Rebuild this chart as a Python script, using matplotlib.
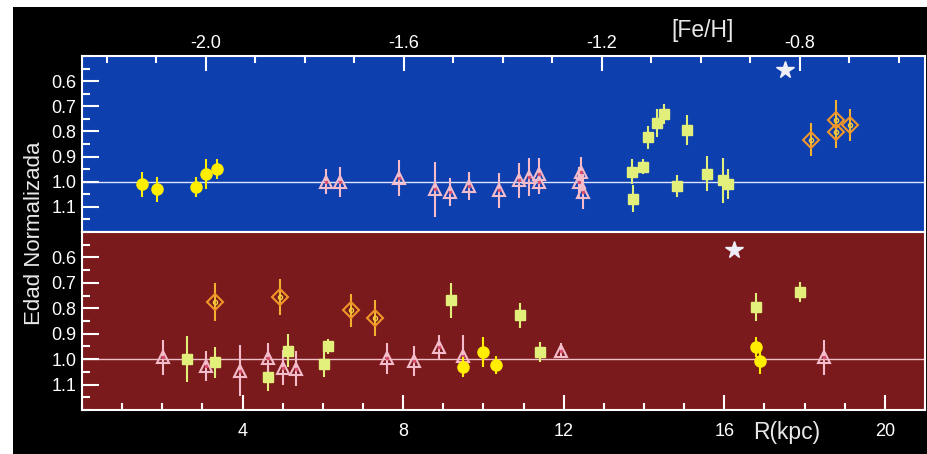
import matplotlib.pyplot as plt
from matplotlib.patches import Rectangle
from matplotlib.ticker import MultipleLocator, FormatStrFormatter

plt.rcParams['font.family'] = ['Liberation Sans', 'DejaVu Sans']

# ---- top panel: age vs [Fe/H] ----
top_circ_feh = [-2.129, -2.098, -2.019, -1.999, -1.977]
top_circ_age = [1.01, 1.03, 1.02, 0.97, 0.95]
top_circ_err = [0.05, 0.05, 0.04, 0.06, 0.04]

top_tri_feh = [-1.758, -1.729, -1.609, -1.537, -1.507, -1.468, -1.407, -1.368,
               -1.347, -1.327, -1.327, -1.246, -1.241, -1.238]
top_tri_age = [1.00, 1.00, 0.985, 1.03, 1.04, 1.017, 1.034, 0.995,
               0.98, 0.97, 1.00, 1.00, 0.96, 1.04]
top_tri_err = [0.05, 0.06, 0.07, 0.11, 0.055, 0.055, 0.07, 0.07,
               0.075, 0.065, 0.05, 0.06, 0.06, 0.07]

top_sq_feh = [-1.138, -1.116, -1.137, -1.107, -1.088, -1.075, -1.027, -1.048,
              -0.987, -0.956, -0.945]
top_sq_age = [0.96, 0.94, 1.067, 0.823, 0.767, 0.73, 0.795, 1.017,
              0.968, 0.995, 1.008]
top_sq_err = [0.05, 0.03, 0.055, 0.045, 0.055, 0.04, 0.06, 0.045,
              0.07, 0.09, 0.06]

top_dia_feh = [-0.778, -0.727, -0.727, -0.699]
top_dia_age = [0.833, 0.754, 0.804, 0.775]
top_dia_err = [0.065, 0.08, 0.06, 0.065]

top_star = (-0.830, 0.556)

# ---- bottom panel: age vs R (kpc) ----
bot_circ_r = [9.49, 9.98, 10.32, 16.80, 16.88]
bot_circ_age = [1.03, 0.971, 1.024, 0.951, 1.009]
bot_circ_err = [0.04, 0.06, 0.035, 0.04, 0.05]

bot_tri_r = [2.02, 3.08, 3.93, 4.63, 5.01, 5.32, 7.60, 8.28, 8.90, 9.50, 11.93, 18.48]
bot_tri_age = [0.993, 1.027, 1.046, 0.997, 1.033, 1.037, 0.997, 1.007,
               0.954, 0.987, 0.967, 0.993]
bot_tri_err = [0.07, 0.06, 0.10, 0.06, 0.07, 0.07, 0.06, 0.06,
               0.05, 0.08, 0.03, 0.07]

bot_sq_r = [2.62, 3.31, 4.63, 5.13, 6.02, 6.13, 9.20, 10.90, 11.41, 16.78, 17.88]
bot_sq_age = [1.00, 1.013, 1.069, 0.967, 1.02, 0.95, 0.769, 0.828, 0.971, 0.795, 0.735]
bot_sq_err = [0.09, 0.06, 0.055, 0.065, 0.05, 0.03, 0.07, 0.05, 0.04, 0.055, 0.04]

bot_dia_r = [3.31, 4.93, 6.71, 7.31]
bot_dia_age = [0.775, 0.755, 0.808, 0.838]
bot_dia_err = [0.075, 0.07, 0.065, 0.07]

bot_star = (16.23, 0.57)

W, H = 928, 454
fig = plt.figure(figsize=(W / 100, H / 100), dpi=100)
fig.patch.set_facecolor('white')
fig.patches.append(Rectangle((13 / W, 0), 1, 1 - 7 / H, transform=fig.transFigure,
                             facecolor='black', edgecolor='none', zorder=-10))

left, right = 82 / W, 925 / W
ax_top = fig.add_axes([left, 1 - 232 / H, right - left, 176 / H])
ax_bot = fig.add_axes([left, 1 - 410 / H, right - left, 178 / H])


def draw(ax, circ, tri, sq, dia, star, line_col):
    ax.axhline(1.0, color=line_col, lw=1, zorder=1)
    # squares
    ax.errorbar(sq[0], sq[1], yerr=sq[2], fmt='s', ms=6.5, mfc='#e2ef7a', mec='#e2ef7a',
                ecolor='#e2ef7a', elinewidth=1.5, capsize=0, zorder=3)
    # diamonds
    ax.errorbar(dia[0], dia[1], yerr=dia[2], fmt='D', ms=8, mfc='none', mec='#f0962a',
                mew=1.5, ecolor='#f2b030', elinewidth=1.5, capsize=0, zorder=3)
    ax.plot(dia[0], dia[1], 'o', ms=3, mfc='none', mec='#f2d040', mew=1, zorder=4)
    # triangles
    ax.errorbar(tri[0], tri[1], yerr=tri[2], fmt='^', ms=8, mfc='none', mec='#f4bccb',
                mew=1.5, ecolor='#f4bccb', elinewidth=1.5, capsize=0, zorder=3)
    ax.plot(tri[0], tri[1], '.', ms=3, color='#d84a6a', zorder=4)
    # circles
    ax.errorbar(circ[0], circ[1], yerr=circ[2], fmt='o', ms=8, mfc='#ffee00', mec='#ffee00',
                ecolor='#ffee00', elinewidth=1.5, capsize=0, zorder=5)
    ax.plot(*star, '*', ms=13, color='#eeeef8', mec='#eeeef8', zorder=5)

    ax.set_ylim(1.2, 0.5)
    ax.yaxis.set_major_locator(MultipleLocator(0.1))
    ax.yaxis.set_minor_locator(MultipleLocator(0.05))
    ax.yaxis.set_major_formatter(FormatStrFormatter('%.1f'))
    ax.set_yticks([0.6, 0.7, 0.8, 0.9, 1.0, 1.1])
    for s in ax.spines.values():
        s.set_color('white')
        s.set_linewidth(1.5)
    ax.tick_params(axis='y', which='both', direction='in', colors='white',
                   labelsize=13, pad=4, left=True, right=False)
    ax.tick_params(axis='y', which='major', length=12, width=1.5)
    ax.tick_params(axis='y', which='minor', length=5.5, width=1.5)


draw(ax_top, (top_circ_feh, top_circ_age, top_circ_err),
     (top_tri_feh, top_tri_age, top_tri_err),
     (top_sq_feh, top_sq_age, top_sq_err),
     (top_dia_feh, top_dia_age, top_dia_err), top_star, '#dde6ff')
draw(ax_bot, (bot_circ_r, bot_circ_age, bot_circ_err),
     (bot_tri_r, bot_tri_age, bot_tri_err),
     (bot_sq_r, bot_sq_age, bot_sq_err),
     (bot_dia_r, bot_dia_age, bot_dia_err), bot_star, '#f0c0c8')

ax_top.set_facecolor('#0e3fae')
ax_bot.set_facecolor('#7a1a1c')

# top axis: [Fe/H]
ax_top.set_xlim(-2.25, -0.547)
ax_top.xaxis.set_major_locator(MultipleLocator(0.4))
ax_top.xaxis.set_minor_locator(MultipleLocator(0.1))
ax_top.xaxis.set_major_formatter(FormatStrFormatter('%.1f'))
ax_top.tick_params(axis='x', which='both', direction='in', colors='white', labelsize=13,
                   top=True, labeltop=True, bottom=False, labelbottom=False, pad=3)
ax_top.tick_params(axis='x', which='major', length=11, width=1.5)
ax_top.tick_params(axis='x', which='minor', length=5, width=1.5)

# bottom axis: R (kpc)
ax_bot.set_xlim(0, 21)
ax_bot.xaxis.set_major_locator(MultipleLocator(4))
ax_bot.xaxis.set_minor_locator(MultipleLocator(1))
ax_bot.set_xticks([4, 8, 12, 16, 20])
ax_bot.tick_params(axis='x', which='both', direction='in', colors='white', labelsize=13,
                   bottom=True, labelbottom=True, top=False, pad=9)
ax_bot.tick_params(axis='x', which='major', length=11, width=1.5)
ax_bot.tick_params(axis='x', which='minor', length=5, width=1.5)

fig.text(703 / W, 1 - 30 / H, '[Fe/H]', color='#e8e8e8', fontsize=16.5, ha='center', va='center')
fig.text(787 / W, 1 - 433 / H, 'R(kpc)', color='#e8e8e8', fontsize=16.5, ha='center', va='center')
fig.text(35 / W, 1 - 233 / H, 'Edad Normalizada', color='#e8e8e8', fontsize=16,
         rotation=90, ha='center', va='center')

plt.savefig('out.png', dpi=100)
